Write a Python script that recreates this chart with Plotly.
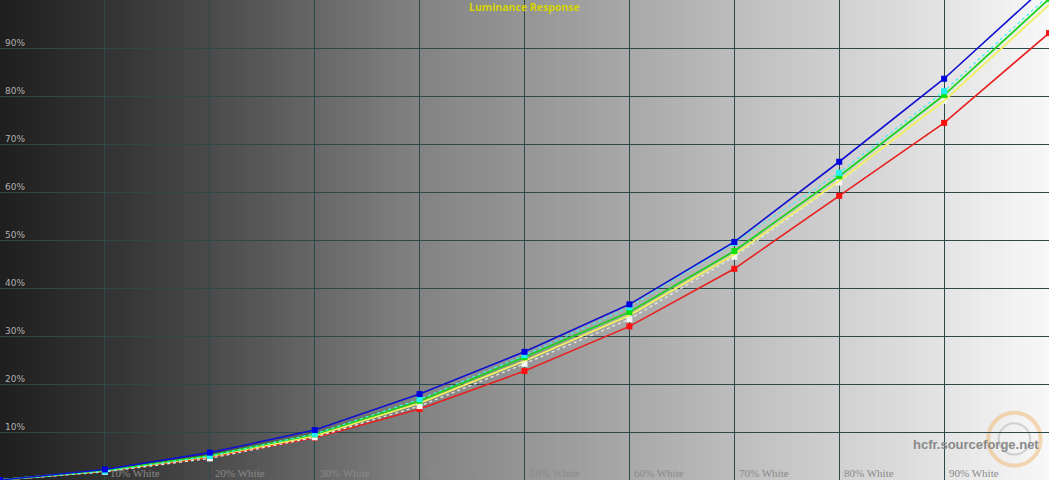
import numpy as np
import plotly.graph_objects as go

levels = [0, 10, 20, 30, 40, 50, 60, 70, 80, 90, 100]
blue = [0, 2.2, 5.7, 10.4, 17.9, 26.7, 36.6, 49.6, 66.3, 83.6, 103.5]
cyan = [0, 1.8, 5.0, 9.6, 16.8, 26.0, 36.0, 49.4, 64.0, 81.0, 101.0]
green = [0, 2.0, 5.1, 9.5, 16.5, 25.6, 35.0, 47.7, 63.3, 80.2, 100.2]
yellow = [0, 1.9, 4.9, 9.2, 16.0, 24.8, 34.3, 47.0, 62.3, 79.0, 99.0]
white = [0, 1.7, 4.5, 8.9, 15.4, 24.2, 33.5, 46.5, 62.0, 79.0, 99.0]
red = [0, 1.8, 4.7, 8.8, 14.8, 22.7, 32.0, 44.0, 59.2, 74.4, 93.1]

y_ticks = [10, 20, 30, 40, 50, 60, 70, 80, 90]
y_labels = [f"{v}%" for v in y_ticks]
x_labels = [f"{v}% White" for v in y_ticks]

# background gradient stops (position %, gray level)
grad_pos = [0, 10, 20, 40, 50, 60, 80, 100]
grad_val = [31, 50, 74, 131, 149, 169, 208, 248]

fig = go.Figure()

shapes = []
step = 0.5
for x0 in np.arange(0, 100, step):
    g = int(round(np.interp(x0 + step / 2, grad_pos, grad_val)))
    c = f"rgb({g},{g},{g})"
    shapes.append(dict(type="rect", xref="x", yref="paper", x0=x0, x1=x0 + step * 2,
                       y0=0, y1=1, fillcolor=c, line=dict(width=0), layer="below"))

def line(y, color, width=1.6, dash="solid", marker=None, msize=6):
    mode = "lines+markers" if marker else "lines"
    fig.add_trace(go.Scatter(
        x=levels, y=y, mode=mode,
        line=dict(color=color, width=width, dash=dash),
        marker=dict(symbol="square", size=msize, color=marker) if marker else None,
        showlegend=False, hoverinfo="skip"))

line(red, "#e82020", 1.6, "solid", "#ff1010")
line(white, "#e8e8e8", 1.3, "dot", "#f4f4f4")
line(yellow, "#f0f060", 1.8, "solid")
line(green, "#20d020", 1.8, "solid", "#10e010")
line(cyan, "#40f0f0", 1.2, "dot", "#20f0f0")
line(blue, "#1010d0", 1.6, "solid", "#0000e0")

annotations = []
for v, t in zip(y_ticks, y_labels):
    annotations.append(dict(x=0, xref="paper", y=v, yref="y", text=t, showarrow=False,
                            xanchor="left", yanchor="bottom", xshift=3, yshift=-2,
                            font=dict(family="DejaVu Sans", size=9, color="#b0b0b0")))
for v, t in zip(y_ticks, x_labels):
    annotations.append(dict(x=v, xref="x", y=0, yref="paper", text=t, showarrow=False,
                            xanchor="left", yanchor="bottom", xshift=3, yshift=-1,
                            font=dict(family="Liberation Serif", size=11, color="#8a8a8a")))
annotations.append(dict(x=0.5, xref="paper", y=1, yref="paper", text="<b>Luminance Response</b>",
                        showarrow=False, xanchor="center", yanchor="top", yshift=2,
                        font=dict(family="Open Sans", size=10.5, color="#d4d400")))
annotations.append(dict(x=1, xref="paper", y=0.073, yref="paper", text="<b>hcfr.sourceforge.net</b>",
                        showarrow=False, xanchor="right", yanchor="middle", xshift=-8,
                        font=dict(family="Liberation Sans", size=13, color="#8a8a8a")))

shapes += [
    dict(type="circle", xref="paper", yref="paper", x0=0.942, x1=0.992, y0=0.03, y1=0.14,
         line=dict(color="#f0b060", width=4), opacity=0.45, layer="below"),
    dict(type="circle", xref="paper", yref="paper", x0=0.952, x1=0.982, y0=0.053, y1=0.118,
         line=dict(color="#b0b0b0", width=2), opacity=0.5, layer="below"),
]

fig.update_layout(
    width=1049, height=480,
    margin=dict(l=0, r=0, t=0, b=0),
    paper_bgcolor="#1f1f1f", plot_bgcolor="rgba(0,0,0,0)",
    showlegend=False,
    annotations=annotations, shapes=shapes,
    xaxis=dict(range=[0, 100], dtick=10, tick0=0, showgrid=True, gridcolor="#2a4a4a",
               gridwidth=1, showticklabels=False, zeroline=False, ticks=""),
    yaxis=dict(range=[0, 100], dtick=10, tick0=0, showgrid=True, gridcolor="#2a4a4a",
               gridwidth=1, showticklabels=False, zeroline=False, ticks=""),
)

fig.write_html("out.html", config={"displayModeBar": False},
               post_script="document.body.style.margin='0';document.body.style.overflow='hidden';")
